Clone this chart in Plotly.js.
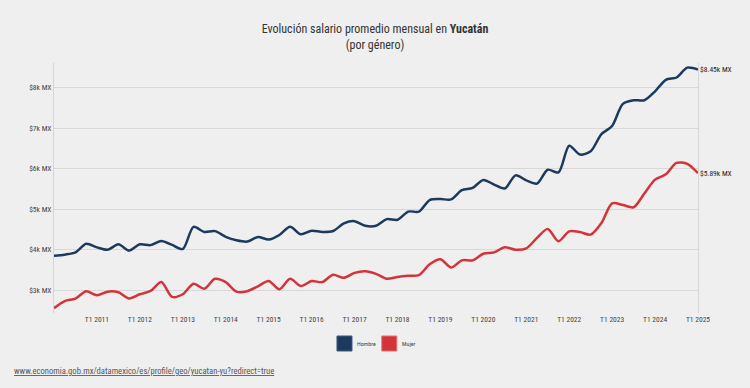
<!DOCTYPE html>
<html>
<head>
<meta charset="utf-8">
<script src="https://cdn.plot.ly/plotly-3.0.1.min.js"></script>
<style>
html,body{margin:0;padding:0;background:#efefef;}
#chart{width:750px;height:388px;}
</style>
</head>
<body>
<div id="chart"></div>
<script>
// Quarterly periods T1 2010 .. T1 2025
const years = [2010,2011,2012,2013,2014,2015,2016,2017,2018,2019,2020,2021,2022,2023,2024,2025];
const quarters = [];
years.forEach(y => { for (let q = 1; q <= 4; q++) { if (y === 2025 && q > 1) break; quarters.push('T' + q + ' ' + y); } });

// Average monthly salary (MXN), Hombre
const hombre = [3850,3880,3935,4150,4060,4000,4135,3980,4135,4115,4215,4120,4020,4565,4440,4460,
  4320,4236,4203,4317,4252,4366,4569,4382,4472,4439,4463,4650,4707,4593,4593,4756,
  4740,4943,4943,5228,5252,5244,5472,5528,5724,5610,5512,5837,5715,5634,5976,5910,
  6569,6350,6431,6854,7057,7602,7691,7691,7911,8195,8252,8496,8450];
// Average monthly salary (MXN), Mujer
const mujer = [2560,2735,2797,2976,2878,2967,2951,2797,2902,2984,3203,2837,2902,3163,3041,3285,
  3203,2967,2976,3098,3228,3024,3285,3106,3228,3203,3382,3309,3431,3472,3407,3285,
  3330,3358,3374,3642,3764,3561,3740,3740,3902,3935,4065,4000,4033,4293,4516,4211,
  4455,4439,4374,4659,5146,5106,5049,5390,5732,5862,6146,6122,5890];

const yTickVals = [3000,4000,5000,6000,7000,8000];
const yTickText = ['$3k MX','$4k MX','$5k MX','$6k MX','$7k MX','$8k MX'];
const xTickVals = quarters.filter(q => q.startsWith('T1') && q !== 'T1 2010');

const seriesNames = ['Hombre','Mujer'];
const seriesColors = ['#1c3a5e','#d23439'];
const endLabels = ['$8.45k MX','$5.89k MX'];

const FONT = 'Roboto Condensed, sans-serif';

const traces = [hombre, mujer].map((vals, k) => ({
  type: 'scatter', mode: 'lines', x: quarters, y: vals, name: seriesNames[k],
  line: {color: seriesColors[k], width: 2.5, shape: 'spline', smoothing: 0.8},
  showlegend: false, hoverinfo: 'x+y'
}));

const last = quarters[quarters.length - 1];
const annotations = [
  {text: '<a href="https://www.economia.gob.mx/datamexico/es/profile/geo/yucatan-yu?redirect=true" style="color:#555"><u>www.economia.gob.mx/datamexico/es/profile/geo/yucatan-yu?redirect=true</u></a>',
   xref: 'paper', yref: 'paper', x: -0.0652, y: -0.233, xanchor: 'left', yanchor: 'middle', showarrow: false,
   font: {family: FONT, size: 8.6, color: '#555'}},
];
[hombre, mujer].forEach((vals, k) => {
  annotations.push({x: last, y: vals[vals.length - 1], xref: 'x', yref: 'y', text: endLabels[k],
    showarrow: false, xanchor: 'left', yanchor: 'middle', xshift: 0,
    font: {family: FONT, size: 7.5, color: '#222'}});
});
// legend labels
const legendX = [0.4394, 0.509];
seriesNames.forEach((n, k) => {
  annotations.push({text: n, xref: 'paper', yref: 'paper', x: legendX[k] + 0.0275, y: -0.12,
    xanchor: 'left', yanchor: 'middle', showarrow: false, font: {family: FONT, size: 6, color: '#444'}});
});
const shapes = seriesNames.map((n, k) => ({
  type: 'rect', xref: 'paper', yref: 'paper',
  x0: legendX[k], x1: legendX[k] + 0.0233, y0: -0.152, y1: -0.092,
  fillcolor: seriesColors[k], line: {color: k === 0 ? '#3a5a80' : '#e57073', width: 1}
}));

const layout = {
  width: 750, height: 388,
  paper_bgcolor: '#efefef', plot_bgcolor: '#efefef',
  margin: {l: 54, r: 52, t: 63, b: 75},
  title: {text: 'Evolución salario promedio mensual en <b>Yucatán</b><br>(por género)',
    x: 0.5, xanchor: 'center', yref: 'container', y: 0.914, yanchor: 'top',
    font: {family: FONT, size: 12, color: '#333'}},
  xaxis: {type: 'category', range: [0, quarters.length - 1], tickvals: xTickVals, ticktext: xTickVals,
    showgrid: false, zeroline: false, showline: false, ticks: '', tickfont: {family: FONT, size: 7.5, color: '#444'}},
  yaxis: {range: [2440, 8610], tickvals: yTickVals, ticktext: yTickText, showgrid: true, gridcolor: '#d8d8d8',
    gridwidth: 1, zeroline: false, showline: true, mirror: true, linecolor: '#d6d6d6', linewidth: 1,
    ticks: '', ticklen: 0, tickfont: {family: FONT, size: 7.5, color: '#444'}},
  annotations: annotations, shapes: shapes, showlegend: false
};

Plotly.newPlot('chart', traces, layout, {displayModeBar: false, staticPlot: true});
</script>
</body>
</html>
